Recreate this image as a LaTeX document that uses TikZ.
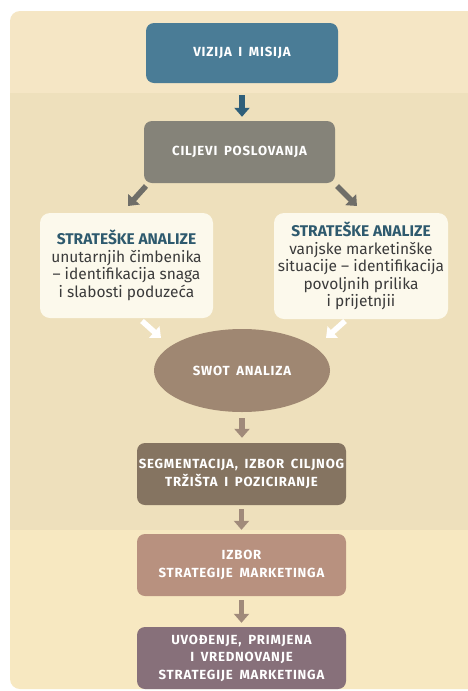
\documentclass[tikz,border=0pt]{standalone}
\usepackage{fontspec}
\setmainfont{Fira Sans}
\newfontfamily\spaced[LetterSpace=6,WordSpace=1.7]{Fira Sans}
\usetikzlibrary{arrows.meta,shapes.geometric}
\definecolor{bgtop}{HTML}{F5E6C5}
\definecolor{bgmid}{HTML}{EEE0BC}
\definecolor{bgbot}{HTML}{F7E8C1}
\definecolor{cviz}{HTML}{4A7C96}
\definecolor{cvizar}{HTML}{2F5F7A}
\definecolor{ccilj}{HTML}{858379}
\definecolor{cgrayar}{HTML}{6F6E68}
\definecolor{cpanel}{HTML}{FCF9EC}
\definecolor{cswot}{HTML}{9F8772}
\definecolor{cswotar}{HTML}{A08A7A}
\definecolor{cseg}{HTML}{857461}
\definecolor{cizb}{HTML}{B8917F}
\definecolor{cuvo}{HTML}{87707A}
\definecolor{cteal}{HTML}{2E5A6E}
\definecolor{ctext}{HTML}{3B3B3B}
\begin{document}
\begin{tikzpicture}[x=1pt,y=-1pt,
  stepbox/.style={rounded corners=8pt, inner sep=0pt, align=center, text=white,
     font=\spaced\bfseries\fontsize{13.2}{17.5}\selectfont},
  panel/.style={fill=cpanel, rounded corners=10pt, inner sep=0pt, align=center,
     text=ctext, font=\fontsize{15.5}{17.5}\selectfont},
  flowar/.style={line width=5.5pt, -{Triangle[width=15pt,length=9pt]}}
]
\useasboundingbox (0,0) rectangle (468,691);
\fill[white] (0,0) rectangle (468,691);
% background bands
\begin{scope}
\clip[rounded corners=10pt] (10,11) rectangle (490,689);
\fill[bgtop] (10,11) rectangle (490,93);
\fill[bgmid] (10,93) rectangle (490,530);
\fill[bgbot] (10,530) rectangle (490,691);
\end{scope}
% nodes
\node[stepbox, fill=cviz, minimum width=192pt, minimum height=60pt] (viz) at (242,53) {VIZIJA I MISIJA};
\node[stepbox, fill=ccilj, minimum width=191pt, minimum height=62pt] (cilj) at (239.5,152) {CILJEVI POSLOVANJA};
\node[panel, minimum width=173pt, minimum height=105pt] (left) at (126.5,265.5)
  {{\color{cteal}\bfseries STRATEŠKE ANALIZE}\\unutarnjih čimbenika\\– identifikacija snaga\\i slabosti poduzeća};
\node[panel, minimum width=174pt, minimum height=106pt] (right) at (361,266)
  {{\color{cteal}\bfseries STRATEŠKE ANALIZE}\\vanjske marketinške\\situacije – identifikacija\\povoljnih prilika\\i prijetnjii};
\node[ellipse, fill=cswot, minimum width=176pt, minimum height=83pt, inner sep=0pt,
  text=white, font=\spaced\bfseries\fontsize{13.2}{17.5}\selectfont] (swot) at (242,370.5) {SWOT ANALIZA};
\node[stepbox, fill=cseg, minimum width=209pt, minimum height=62pt] (seg) at (241.5,474)
  {SEGMENTACIJA, IZBOR CILJNOG\\TRŽIŠTA I POZICIRANJE};
\node[stepbox, fill=cizb, minimum width=209pt, minimum height=62pt] (izb) at (241.5,565)
  {IZBOR\\STRATEGIJE MARKETINGA};
\node[stepbox, fill=cuvo, minimum width=209pt, minimum height=62pt] (uvo) at (241.5,658)
  {UVOĐENJE, PRIMJENA\\I VREDNOVANJE\\STRATEGIJE MARKETINGA};
% arrow end points
\coordinate (a1s) at (146,186); \coordinate (a1e) at (128,206);
\coordinate (a2s) at (337,186); \coordinate (a2e) at (357,206);
\coordinate (a3s) at (142,321); \coordinate (a3e) at (161,338);
\coordinate (a4s) at (345,321); \coordinate (a4e) at (326,338);
% connectors
\draw[flowar, cvizar, shorten <=12pt, shorten >=4pt] (viz.south) -- (viz.south |- cilj.north);
\draw[flowar, cgrayar] (a1s) -- (a1e);
\draw[flowar, cgrayar] (a2s) -- (a2e);
\draw[flowar, white] (a3s) -- (a3e);
\draw[flowar, white] (a4s) -- (a4e);
\draw[flowar, cswotar, shorten <=6pt, shorten >=5pt] (swot.south) -- (swot.south |- seg.north);
\draw[flowar, cswotar, shorten <=4pt, shorten >=4pt] (seg.south) -- (izb.north);
\draw[flowar, cswotar, shorten <=4pt, shorten >=4pt] (izb.south) -- (uvo.north);
\end{tikzpicture}
\end{document}
